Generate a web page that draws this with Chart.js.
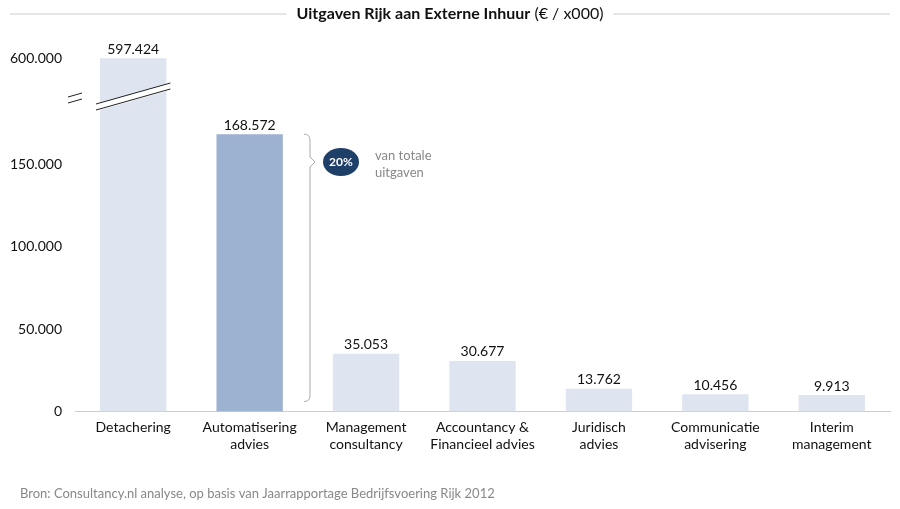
<!DOCTYPE html><html><head><script src="https://cdn.jsdelivr.net/npm/chart.js@4"></script>
<style>body{margin:0;background:#fff}#w{width:900px;height:509px}</style></head><body><div id="w"><canvas id="c"></canvas></div>
<script>
const categories=[["Detachering"],["Automatisering","advies"],["Management","consultancy"],["Accountancy &","Financieel advies"],["Juridisch","advies"],["Communicatie","advisering"],["Interim","management"]];
const values=[597424,168572,35053,30677,13762,10456,9913];
const tickValues=[0,50000,100000,150000,600000];
const colors=["#dfe5f0","#9db1d1","#dfe5f0","#dfe5f0","#dfe5f0","#dfe5f0","#dfe5f0"];
const BRK=190000,F=24900/410000;
const map=v=>v<=BRK?v:BRK+(v-BRK)*F;
const fmt=v=>v.toLocaleString('de-DE');
const FONT="Lato";
const deco={id:'deco',afterDatasetsDraw(ch){
 const c=ch.ctx,y=ch.scales.y,x=ch.scales.x,m=ch.getDatasetMeta(0);
 c.save();c.fillStyle="#111";c.font="14px "+FONT;c.textAlign="center";c.textBaseline="bottom";
 m.data.forEach((b,i)=>c.fillText(fmt(values[i]),b.x,b.y-2));
 // bar break
 const b0=m.data[0];const L=b0.x-b0.width/2-4,R=b0.x+b0.width/2+4;
 c.fillStyle="#fff";c.beginPath();c.moveTo(L,104);c.lineTo(R,83);c.lineTo(R,90);c.lineTo(L,111);c.closePath();c.fill();
 c.strokeStyle="#222";c.lineWidth=1;
 c.beginPath();c.moveTo(L,104);c.lineTo(R,83);c.moveTo(L,110);c.lineTo(R,89);c.stroke();
 // axis break
 c.beginPath();c.moveTo(68,97);c.lineTo(82,93);c.moveTo(68,103);c.lineTo(82,99);c.stroke();
 // bracket
 const top=y.getPixelForValue(values[1]),bot=y.getPixelForValue(6000),bx=310,mid=162;
 c.strokeStyle="#aaa";c.beginPath();c.moveTo(bx-6,top);c.quadraticCurveTo(bx,top,bx,top+6);c.lineTo(bx,mid-5);c.lineTo(bx+5,mid);c.lineTo(bx,mid+5);c.lineTo(bx,bot-6);c.quadraticCurveTo(bx,bot,bx-6,bot);c.stroke();
 c.fillStyle="#1e3f68";c.beginPath();c.ellipse(341,162,18,14,0,0,Math.PI*2);c.fill();
 c.fillStyle="#fff";c.font="bold 12px "+FONT;c.textBaseline="middle";c.fillText("20%",341,162);
 c.fillStyle="#888";c.font="13px "+FONT;c.textAlign="left";c.fillText("van totale",375,156);c.fillText("uitgaven",375,173);
 // title
 c.font="bold 16px "+FONT;const t1="Uitgaven Rijk aan Externe Inhuur";c.font="16px "+FONT;const t2=" (€ / x000)";
 c.font="bold 16px "+FONT;const w1=c.measureText(t1).width;c.font="16px "+FONT;const w2=c.measureText(t2).width;
 const sx=450-(w1+w2)/2;c.fillStyle="#111";c.font="bold 16px "+FONT;c.fillText(t1,sx,14);c.font="16px "+FONT;c.fillText(t2,sx+w1,14);
 c.strokeStyle="#ccc";c.beginPath();c.moveTo(10,14);c.lineTo(sx-10,14);c.moveTo(sx+w1+w2+10,14);c.lineTo(890,14);c.stroke();
 c.fillStyle="#888";c.font="13px "+FONT;c.fillText("Bron: Consultancy.nl analyse, op basis van Jaarrapportage Bedrijfsvoering Rijk 2012",20,494);
 c.restore();}};
new Chart(document.getElementById('c'),{type:'bar',
 data:{labels:categories,datasets:[{data:values.map(map),backgroundColor:colors,barPercentage:0.57,categoryPercentage:1}]},
 options:{responsive:true,maintainAspectRatio:false,animation:false,
  layout:{padding:{top:58,right:10,bottom:48,left:0}},
  plugins:{legend:{display:false},tooltip:{enabled:false}},
  scales:{
   x:{grid:{display:false,drawTicks:false},border:{color:"#ccc"},ticks:{color:"#111",font:{family:FONT,size:14},padding:8}},
   y:{min:0,max:map(600000),grid:{display:false,drawTicks:false},border:{display:false},
    afterFit(s){s.width=75},
    afterBuildTicks(s){s.ticks=tickValues.map(v=>({value:map(v),label:fmt(v)}))},
    ticks:{color:"#111",font:{family:FONT,size:14},padding:13,callback:(v,i)=>fmt(tickValues[i])}}}},
 plugins:[deco]});
</script></body></html>
